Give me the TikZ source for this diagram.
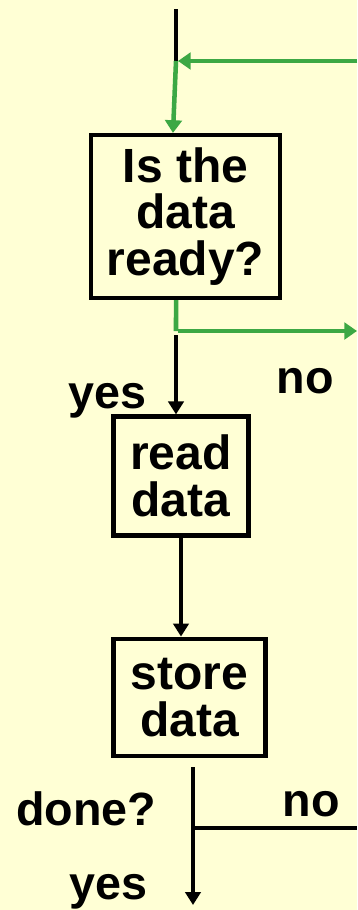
\documentclass[tikz,border=0pt]{standalone}
\usepackage{fontspec}
\setmainfont{Liberation Sans}
\usetikzlibrary{arrows.meta}

\definecolor{bgyellow}{RGB}{255,255,213}
\definecolor{loopgreen}{RGB}{60,168,68}

\tikzset{
  box/.style={draw=black, line width=3.4pt, inner sep=0pt, align=center,
    font=\fontsize{36}{35}\selectfont\bfseries},
  lbl/.style={anchor=base, inner sep=0pt, font=\fontsize{35}{35}\selectfont\bfseries},
  conn/.style={draw=black, line width=3.4pt},
  greenconn/.style={draw=loopgreen, line width=3.4pt},
  blackarrow/.style={-{Triangle[length=9.75pt,width=11.5pt]}},
  greenarrow/.style={-{Triangle[length=9.5pt,width=12.5pt]}},
}

\begin{document}
\begin{tikzpicture}[x=0.75pt,y=0.75pt,yscale=-1,xscale=1]
%background
\fill [bgyellow] (0,0) rectangle (357,910);
\useasboundingbox (0,0) rectangle (357,910);

%Boxes
\node [box, minimum width=142pt, minimum height=122pt] (ready) at (185.5,216.5) {Is the\\data\\ready?};
\node [box, minimum width=101pt, minimum height=89pt] (read) at (181,476) {read\\data};
\node [box, minimum width=114pt, minimum height=88pt] (store) at (189.5,697.5) {store\\data};

%Free ends
\coordinate (top) at (176,9);
\coordinate (join) at (176,61);
\coordinate (loopin) at (357,61);
\coordinate (split) at (176,331);
\coordinate (loopout) at (357,331);
\coordinate (yesstart) at (176,335);
\coordinate (donetop) at (193,767);
\coordinate (donesplit) at (193,828);
\coordinate (doneout) at (357,828);
\coordinate (doneend) at (193,905);

%Connectors
\draw [conn] (top) -- (join);
\draw [greenconn, greenarrow] (loopin) -- ([xshift=1.5pt]join);
\draw [greenconn, greenarrow] (join) -- ([xshift=-9.4pt]ready.north);
\draw [greenconn] ([xshift=-7.1pt]ready.south) -- (split);
\draw [greenconn, greenarrow] ([xshift=1.5pt]split) -- (loopout);
\draw [conn, blackarrow] (yesstart) -- ([xshift=-3.75pt]read.north);
\draw [conn, blackarrow] (read.south) -- (read.south |- store.north);
\draw [conn, blackarrow] (donetop) -- (doneend);
\draw [conn] (donesplit) -- (doneout);

% Text Node
\node [lbl] (yes1) at (107.5,408) {yes};
% Text Node
\node [lbl] (no1) at (305,393) {no};
% Text Node
\node [lbl] (done) at (86,825) {done?};
% Text Node
\node [lbl] (no2) at (311,816) {no};
% Text Node
\node [lbl] (yes2) at (108.5,899) {yes};
\end{tikzpicture}
\end{document}
